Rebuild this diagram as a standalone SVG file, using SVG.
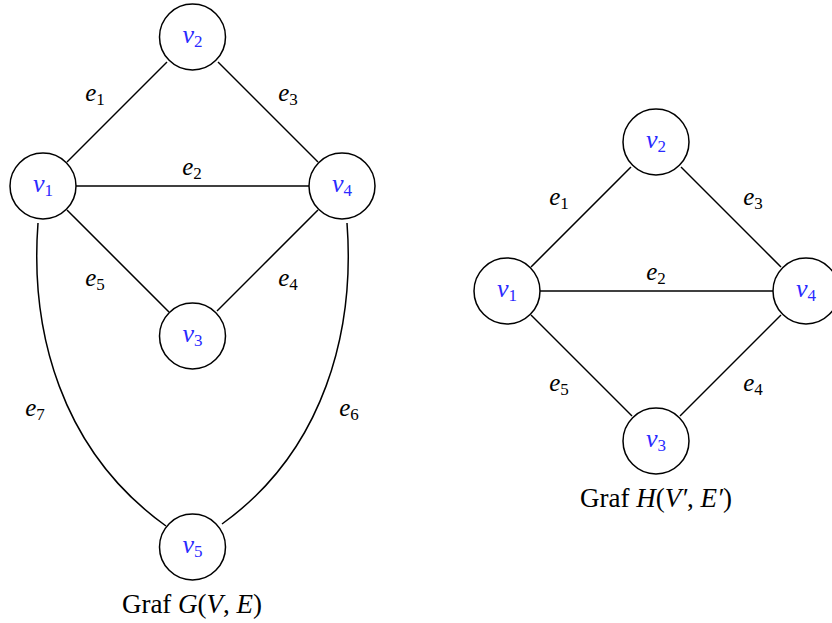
<svg xmlns="http://www.w3.org/2000/svg" width="832" height="623" viewBox="0 0 832 623">
<style>
.n{fill:#fff;stroke:#000;stroke-width:1.5}
.e{fill:none;stroke:#000;stroke-width:1.5}
.v{font-family:"Liberation Serif",serif;font-style:italic;font-size:26px;fill:#2a2aff;text-anchor:middle}
.l{font-family:"Liberation Serif",serif;font-style:italic;font-size:25px;fill:#000;text-anchor:middle}
.s{font-style:normal;font-size:17px}
.c{font-family:"Liberation Serif",serif;font-size:27px;fill:#000;text-anchor:middle}
.i{font-style:italic}
</style>
<rect width="832" height="623" fill="#fff"/>
<g id="edges">
<line class="e" x1="67" y1="162" x2="167" y2="62"/>
<line class="e" x1="218" y1="62" x2="318" y2="162"/>
<line class="e" x1="76" y1="186" x2="309" y2="186"/>
<line class="e" x1="67" y1="210" x2="169" y2="312"/>
<line class="e" x1="318" y1="210" x2="217" y2="311"/>
<path class="e" d="M38,223 C30,330 60,450 166,526"/>
<path class="e" d="M347,223 C355,330 325,450 222,524"/>
<line class="e" x1="531" y1="267" x2="631" y2="167"/>
<line class="e" x1="681" y1="167" x2="781" y2="267"/>
<line class="e" x1="540" y1="291" x2="773" y2="291"/>
<line class="e" x1="531" y1="315" x2="632" y2="416"/>
<line class="e" x1="781" y1="315" x2="680" y2="416"/>
</g>
<g id="edge-labels">
<text class="l" x="95" y="101">e<tspan class="s" dy="4">1</tspan></text>
<text class="l" x="288" y="101">e<tspan class="s" dy="4">3</tspan></text>
<text class="l" x="192" y="175">e<tspan class="s" dy="4">2</tspan></text>
<text class="l" x="95" y="286">e<tspan class="s" dy="4">5</tspan></text>
<text class="l" x="288" y="286">e<tspan class="s" dy="4">4</tspan></text>
<text class="l" x="35" y="416">e<tspan class="s" dy="4">7</tspan></text>
<text class="l" x="349" y="416">e<tspan class="s" dy="4">6</tspan></text>
<text class="l" x="559" y="205">e<tspan class="s" dy="4">1</tspan></text>
<text class="l" x="753" y="205">e<tspan class="s" dy="4">3</tspan></text>
<text class="l" x="656" y="280">e<tspan class="s" dy="4">2</tspan></text>
<text class="l" x="559" y="391">e<tspan class="s" dy="4">5</tspan></text>
<text class="l" x="753" y="391">e<tspan class="s" dy="4">4</tspan></text>
</g>
<g id="G-v1"><circle class="n" cx="43" cy="186" r="33"/><text class="v" x="43" y="192">v<tspan class="s" dy="4">1</tspan></text></g>
<g id="G-v2"><circle class="n" cx="192.5" cy="37" r="33"/><text class="v" x="192.5" y="43">v<tspan class="s" dy="4">2</tspan></text></g>
<g id="G-v3"><circle class="n" cx="192.5" cy="336" r="33"/><text class="v" x="192.5" y="342">v<tspan class="s" dy="4">3</tspan></text></g>
<g id="G-v4"><circle class="n" cx="342" cy="186" r="33"/><text class="v" x="342" y="192">v<tspan class="s" dy="4">4</tspan></text></g>
<g id="G-v5"><circle class="n" cx="192.5" cy="547" r="33"/><text class="v" x="192.5" y="553">v<tspan class="s" dy="4">5</tspan></text></g>
<g id="H-v1"><circle class="n" cx="507" cy="291" r="33"/><text class="v" x="507" y="297">v<tspan class="s" dy="4">1</tspan></text></g>
<g id="H-v2"><circle class="n" cx="656" cy="142" r="33"/><text class="v" x="656" y="148">v<tspan class="s" dy="4">2</tspan></text></g>
<g id="H-v3"><circle class="n" cx="656" cy="441" r="33"/><text class="v" x="656" y="447">v<tspan class="s" dy="4">3</tspan></text></g>
<g id="H-v4"><circle class="n" cx="806" cy="291" r="33"/><text class="v" x="806" y="297">v<tspan class="s" dy="4">4</tspan></text></g>
<g id="captions">
<text class="c" x="192" y="613">Graf <tspan class="i">G</tspan>(<tspan class="i">V</tspan>, <tspan class="i">E</tspan>)</text>
<text class="c" x="656" y="507">Graf <tspan class="i">H</tspan>(<tspan class="i">V′</tspan>, <tspan class="i">E′</tspan>)</text>
</g>
</svg>
